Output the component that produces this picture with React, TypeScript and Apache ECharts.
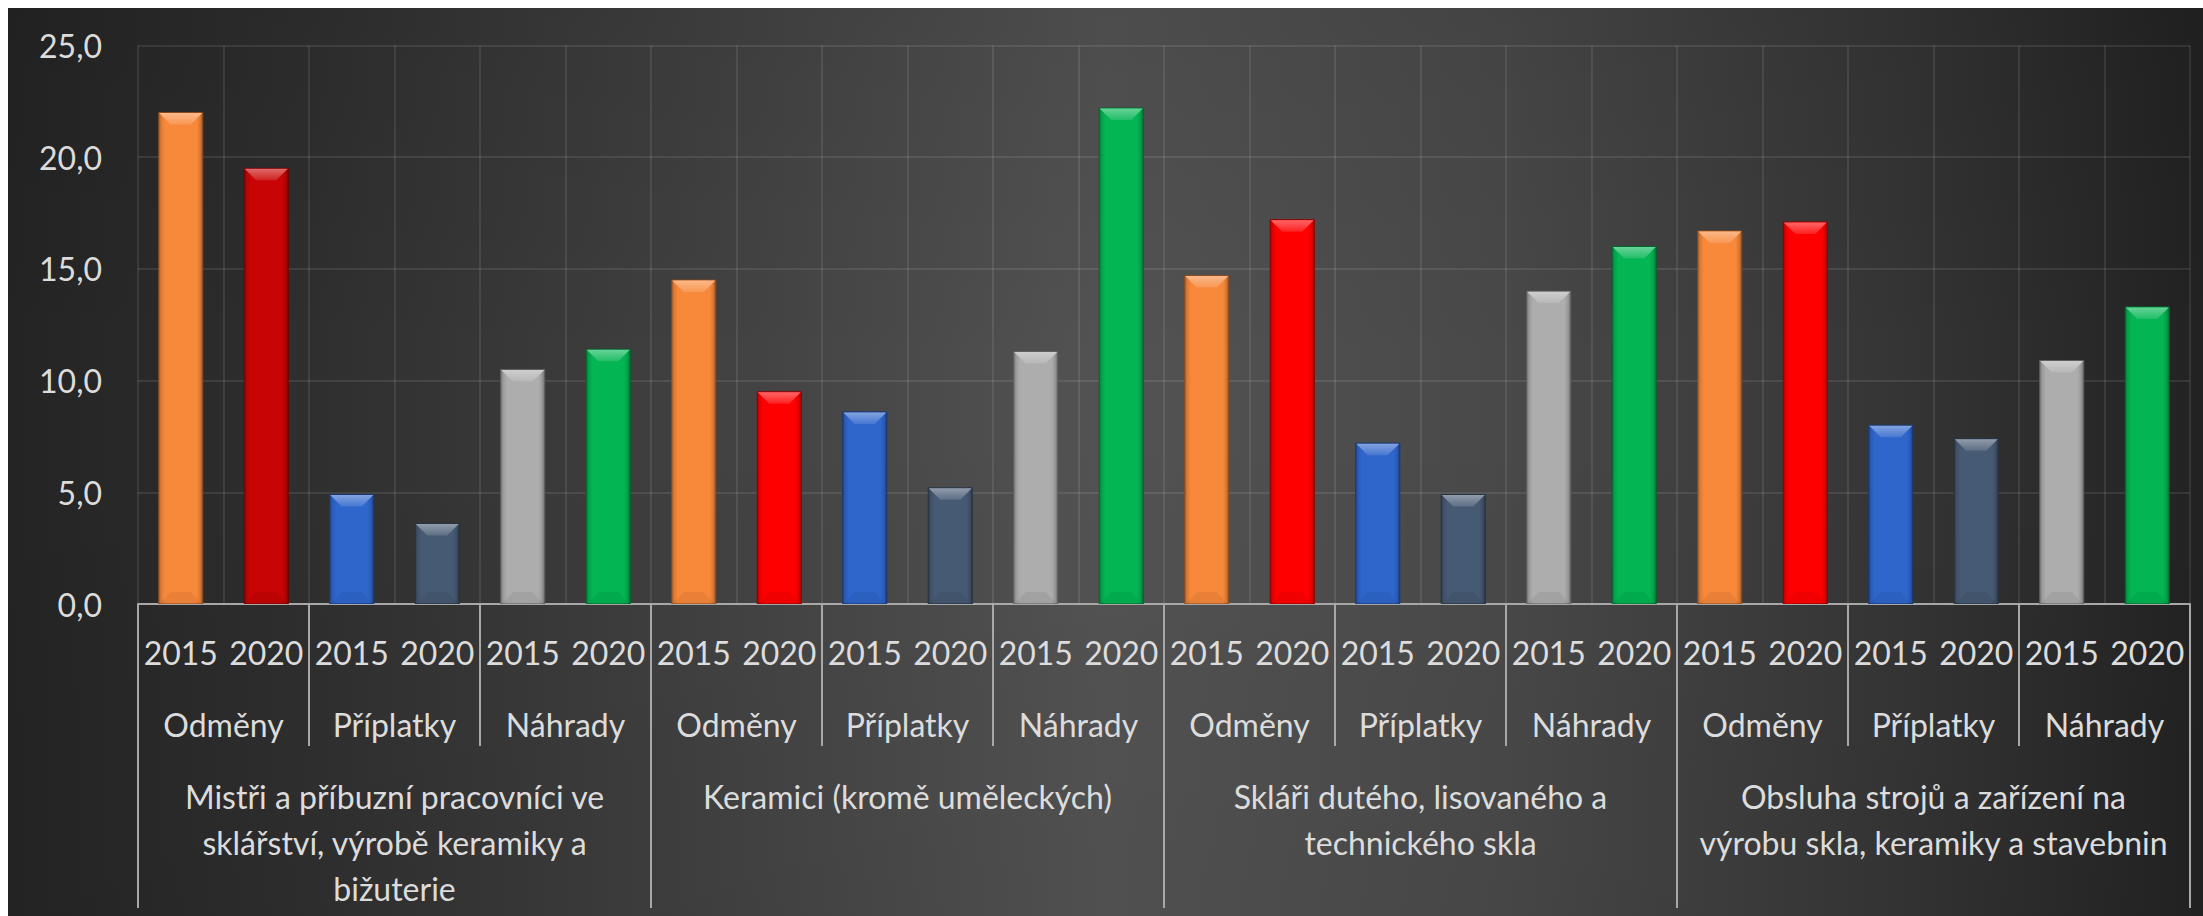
import React, { useEffect, useRef } from "react";
import * as echarts from "echarts";

// ---- data ----
const years = [
  "2015", "2020", "2015", "2020", "2015", "2020",
  "2015", "2020", "2015", "2020", "2015", "2020",
  "2015", "2020", "2015", "2020", "2015", "2020",
  "2015", "2020", "2015", "2020", "2015", "2020",
];
const components = [
  "Odměny", "Příplatky", "Náhrady",
  "Odměny", "Příplatky", "Náhrady",
  "Odměny", "Příplatky", "Náhrady",
  "Odměny", "Příplatky", "Náhrady",
];
const occupations = [
  "Mistři a příbuzní pracovníci ve\nsklářství, výrobě keramiky a\nbižuterie",
  "Keramici (kromě uměleckých)",
  "Skláři dutého, lisovaného a\ntechnického skla",
  "Obsluha strojů a zařízení na\nvýrobu skla, keramiky a stavebnin",
];
const values = [
  22.0, 19.5, 4.9, 3.6, 10.5, 11.4,
  14.5, 9.5, 8.6, 5.2, 11.3, 22.2,
  14.7, 17.2, 7.2, 4.9, 14.0, 16.0,
  16.7, 17.1, 8.0, 7.4, 10.9, 13.3,
];
const yMin = 0;
const yMax = 25;
const yInterval = 5;

// ---- styles ----
const ORANGE = "#F8893B";
const DARKRED = "#C80404";
const RED = "#FF0000";
const BLUE = "#2F66CC";
const SLATE = "#475A73";
const GRAY = "#ADADAD";
const GREEN = "#03B553";
const barColors = [
  ORANGE, DARKRED, BLUE, SLATE, GRAY, GREEN,
  ORANGE, RED, BLUE, SLATE, GRAY, GREEN,
  ORANGE, RED, BLUE, SLATE, GRAY, GREEN,
  ORANGE, RED, BLUE, SLATE, GRAY, GREEN,
];

const FONT = "Lato";
const TEXT = "#dcdcdc";
const AXIS = "#a8a8a8";
const GRID = "rgba(255,255,255,0.12)";
const W = 2195;
const H = 908;

function mix(hex: string, target: number, t: number): string {
  const n = parseInt(hex.slice(1), 16);
  const r = (n >> 16) & 255;
  const g = (n >> 8) & 255;
  const b = n & 255;
  const f = (c: number) => Math.round(c + (target - c) * t);
  return `rgb(${f(r)},${f(g)},${f(b)})`;
}
const darker = (c: string, t: number) => mix(c, 0, t);
const lighter = (c: string, t: number) => mix(c, 255, t);

export default function App() {
  const ref = useRef<HTMLDivElement>(null);

  useEffect(() => {
    if (!ref.current) return;
    const chart = echarts.init(ref.current, null, { renderer: "svg" });

    const option: any = {
      animation: false,
      backgroundColor: "transparent",
      graphic: [
        {
          type: "rect",
          left: 0,
          top: 0,
          z: -10,
          silent: true,
          shape: { width: W, height: H },
          style: {
            fill: new echarts.graphic.LinearGradient(0, 0, 1, 0, [
              { offset: 0, color: "#242424" },
              { offset: 0.14, color: "#2f2f2f" },
              { offset: 0.3, color: "#3f3f3f" },
              { offset: 0.5, color: "#535353" },
              { offset: 0.68, color: "#494949" },
              { offset: 0.86, color: "#353535" },
              { offset: 1, color: "#222222" },
            ]),
          },
        },
        {
          type: "rect",
          left: 0,
          top: 0,
          z: -9,
          silent: true,
          shape: { width: W, height: H },
          style: {
            fill: new echarts.graphic.LinearGradient(0, 0, 0, 1, [
              { offset: 0, color: "rgba(0,0,0,0.08)" },
              { offset: 0.4, color: "rgba(0,0,0,0)" },
              { offset: 1, color: "rgba(0,0,0,0.04)" },
            ]),
          },
        },
      ],
      grid: {
        left: 130,
        right: 13,
        top: 37.5,
        bottom: 312,
        containLabel: false,
        outerBoundsMode: "none",
      },
      xAxis: [
        {
          type: "category",
          data: years,
          position: "bottom",
          boundaryGap: true,
          axisLine: { show: true, lineStyle: { color: AXIS, width: 2 } },
          axisTick: { show: false },
          splitLine: { show: true, interval: 0, lineStyle: { color: GRID, width: 1.5 } },
          axisLabel: {
            interval: 0,
            margin: 48,
            verticalAlign: "middle",
            color: TEXT,
            fontSize: 32,
            fontFamily: FONT,
          },
        },
        {
          type: "category",
          data: components,
          position: "bottom",
          boundaryGap: true,
          axisLine: { show: false },
          axisTick: { show: true, interval: 0, length: 142, lineStyle: { color: AXIS, width: 2 } },
          splitLine: { show: false },
          axisLabel: {
            interval: 0,
            margin: 120,
            verticalAlign: "middle",
            color: TEXT,
            fontSize: 32,
            fontFamily: FONT,
          },
        },
        {
          type: "category",
          data: occupations,
          position: "bottom",
          boundaryGap: true,
          axisLine: { show: false },
          axisTick: { show: true, interval: 0, length: 304, lineStyle: { color: AXIS, width: 2 } },
          splitLine: { show: false },
          axisLabel: {
            interval: 0,
            margin: 169,
            verticalAlign: "top",
            lineHeight: 46,
            align: "center",
            color: TEXT,
            fontSize: 32,
            fontFamily: FONT,
          },
        },
      ],
      yAxis: {
        type: "value",
        min: yMin,
        max: yMax,
        interval: yInterval,
        axisLine: { show: false },
        axisTick: { show: false },
        splitLine: { show: true, lineStyle: { color: GRID, width: 1.5 } },
        axisLabel: {
          margin: 36,
          color: TEXT,
          fontSize: 32,
          fontFamily: FONT,
          formatter: (v: number) => v.toFixed(1).replace(".", ","),
        },
      },
      series: [
        {
          type: "custom",
          xAxisIndex: 0,
          yAxisIndex: 0,
          z: 3,
          clip: true,
          encode: { x: 0, y: 1 },
          data: values.map((v, i) => [i, v]),
          renderItem: (params: any, api: any) => {
            const i = api.value(0) as number;
            const v = api.value(1) as number;
            const top = api.coord([i, v]);
            const base = api.coord([i, 0]);
            const w = api.size([1, 0])[0] * 0.515;
            const x = top[0] - w / 2;
            const y = top[1];
            const h = base[1] - top[1];
            const c = barColors[params.dataIndex];
            const b = Math.min(12, h / 3, w / 3);
            return {
              type: "group",
              children: [
                {
                  type: "rect",
                  shape: { x, y, width: w, height: h },
                  style: {
                    fill: new echarts.graphic.LinearGradient(0, 0, 1, 0, [
                      { offset: 0, color: darker(c, 0.3) },
                      { offset: 0.06, color: darker(c, 0.1) },
                      { offset: 0.14, color: c },
                      { offset: 0.86, color: c },
                      { offset: 0.94, color: darker(c, 0.12) },
                      { offset: 1, color: darker(c, 0.38) },
                    ]),
                    stroke: darker(c, 0.45),
                    lineWidth: 1,
                  },
                },
                {
                  type: "polygon",
                  shape: {
                    points: [
                      [x + 0.5, y + 0.5],
                      [x + w - 0.5, y + 0.5],
                      [x + w - b, y + b],
                      [x + b, y + b],
                    ],
                  },
                  style: {
                    fill: new echarts.graphic.LinearGradient(0, 0, 0, 1, [
                      { offset: 0, color: lighter(c, 0.4) },
                      { offset: 1, color: lighter(c, 0.12) },
                    ]),
                  },
                },
                {
                  type: "polygon",
                  shape: {
                    points: [
                      [x + 1, base[1]],
                      [x + w - 1, base[1]],
                      [x + w - b, base[1] - b],
                      [x + b, base[1] - b],
                    ],
                  },
                  style: { fill: "rgba(0,0,0,0.06)" },
                },
              ],
            };
          },
        },
      ],
    };

    chart.setOption(option);
    return () => {
      chart.dispose();
    };
  }, []);

  return (
    <div
      ref={ref}
      style={{ position: "absolute", left: 8, top: 8, width: W, height: H }}
    />
  );
}
